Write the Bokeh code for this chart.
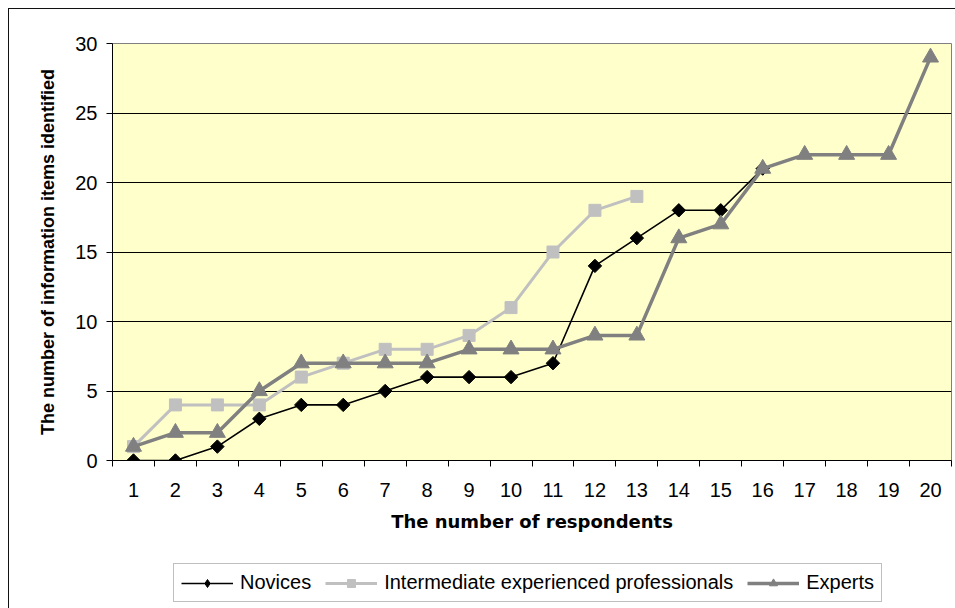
import math

from bokeh.plotting import figure
from bokeh.layouts import column
from bokeh.models import Range1d, FixedTicker, Legend, LegendItem, InlineStyleSheet
from bokeh.embed import file_html
from bokeh.resources import INLINE

# Respondents (category positions) and information items identified per group
respondents = list(range(1, 21))
novices = [0, 0, 1, 3, 4, 4, 5, 6, 6, 6, 7, 14, 16, 18, 18, 21]
intermediate = [1, 4, 4, 4, 6, 7, 8, 8, 9, 11, 15, 18, 19]
experts = [1, 2, 2, 5, 7, 7, 7, 7, 8, 8, 8, 9, 9, 16, 17, 21, 22, 22, 22, 29]

x_tick_labels = [str(r) for r in respondents]
y_ticks = [0, 5, 10, 15, 20, 25, 30]
series_names = ["Novices", "Intermediate experienced professionals", "Experts"]

FONT = "Liberation Sans"
W = 955
CHART_H = 562
LEGEND_H = 46

# Series styles shared by the chart and the legend strip
styles = {
    "nov_line": dict(line_color="black", line_width=1.6),
    "nov_pts": dict(marker="square", angle=math.pi / 4, size=9.5,
                    fill_color="black", line_color="black"),
    "int_line": dict(line_color="#C0C0C0", line_width=3),
    "int_pts": dict(marker="square", size=12, fill_color="#C0C0C0", line_color="#C0C0C0"),
    "exp_line": dict(line_color="#808080", line_width=3.5),
    "exp_pts": dict(marker="triangle", size=16, fill_color="#808080", line_color="#808080"),
}
# legend swatches ignore marker rotation, so the novices swatch uses a diamond
legend_markers = {
    "nov_pts": dict(marker="diamond", size=12, fill_color="black", line_color="black"),
}


def outer_border(top_px):
    # thin outer chart border, drawn around the canvas by the page
    return InlineStyleSheet(css=f"""
:host {{ overflow: hidden; }}
:host::after {{
  content: "";
  position: absolute;
  left: 8px; top: {top_px}px;
  width: 2000px; height: 2000px;
  border: 1px solid #111;
  pointer-events: none;
}}
""")


p = figure(
    width=W, height=CHART_H,
    output_backend="svg", toolbar_location=None,
    x_range=Range1d(0.5, 20.5), y_range=Range1d(0, 30),
    min_border_left=112, min_border_right=4,
    min_border_top=43, min_border_bottom=CHART_H - 460,
    background_fill_color="#FFFFCC", border_fill_color="white",
    outline_line_color="#808080", outline_line_width=1,
    stylesheets=[outer_border(8)],
)

# Category-style x axis: labels at centres, tick marks between categories
p.xaxis.ticker = FixedTicker(ticks=respondents,
                             minor_ticks=[r - 0.5 for r in respondents] + [respondents[-1] + 0.5])
p.xaxis.major_label_overrides = {r: lbl for r, lbl in zip(respondents, x_tick_labels)}
p.xaxis.major_tick_out = 0
p.xaxis.major_tick_in = 0
p.xaxis.minor_tick_out = 6
p.xaxis.minor_tick_in = 0
p.xaxis.minor_tick_line_color = "black"
p.xaxis.major_label_standoff = 16
p.xaxis.axis_label = "The number of respondents"
p.xaxis.axis_label_text_font = "DejaVu Sans"
p.xaxis.axis_label_text_font_style = "bold"
p.xaxis.axis_label_text_font_size = "18px"
p.xaxis.axis_label_standoff = 11

p.yaxis.ticker = FixedTicker(ticks=y_ticks)
p.yaxis.major_tick_out = 6
p.yaxis.major_tick_in = 0
p.yaxis.minor_tick_out = 0
p.yaxis.minor_tick_in = 0
p.yaxis.major_label_standoff = 9
p.yaxis.axis_label = "The number of information items identified"
p.yaxis.axis_label_text_font = FONT
p.yaxis.axis_label_text_font_style = "bold"
p.yaxis.axis_label_text_font_size = "18px"
p.yaxis.axis_label_standoff = 14

for ax in (p.xaxis, p.yaxis):
    ax.axis_line_color = "black"
    ax.axis_line_width = 1
    ax.major_tick_line_color = "black"
    ax.major_label_text_font = FONT
    ax.major_label_text_font_size = "20px"
    ax.major_label_text_color = "black"
    ax.axis_label_text_color = "black"

p.xgrid.grid_line_color = None
p.ygrid.ticker = FixedTicker(ticks=y_ticks[1:-1])
p.ygrid.grid_line_color = "black"
p.ygrid.grid_line_width = 1

series = [
    ("nov", respondents[:len(novices)], novices),
    ("int", respondents[:len(intermediate)], intermediate),
    ("exp", respondents[:len(experts)], experts),
]

for key, xs, ys in series:
    p.line(xs, ys, **styles[f"{key}_line"])
    p.scatter(xs, ys, **styles[f"{key}_pts"])

# Legend strip under the chart; its ranges sit away from the data so only
# the legend glyphs show
lg = figure(
    width=W, height=LEGEND_H,
    output_backend="svg", toolbar_location=None,
    x_range=Range1d(-2, -1), y_range=Range1d(-2, -1),
    x_axis_location=None, y_axis_location=None,
    min_border=0, outline_line_color=None,
    background_fill_color="white", border_fill_color="white",
    stylesheets=[outer_border(-20)],
)
lg.grid.grid_line_color = None

items = []
for name, (key, xs, ys) in zip(series_names, series):
    ln = lg.line(xs, ys, **styles[f"{key}_line"])
    pt = lg.scatter(xs, ys, **legend_markers.get(f"{key}_pts", styles[f"{key}_pts"]))
    items.append(LegendItem(label=name, renderers=[ln, pt]))

legend = Legend(
    items=items,
    orientation="horizontal",
    location=(61, 6),
    label_text_font=FONT, label_text_font_size="20px", label_text_color="black",
    glyph_width=52, glyph_height=20,
    label_standoff=7, spacing=14, padding=7, margin=0,
    border_line_color="#808080", border_line_width=1,
    background_fill_color="white", background_fill_alpha=1,
)
lg.add_layout(legend)

layout = column(p, lg, spacing=0)

open("out.html", "w").write(file_html(layout, INLINE))
